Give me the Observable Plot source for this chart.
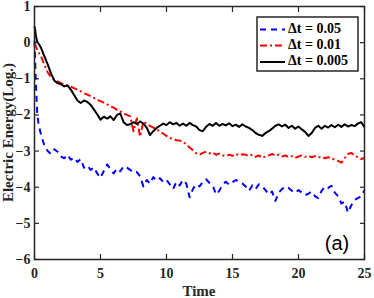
<!DOCTYPE html>
<html>
<head>
<meta charset="utf-8">
<script src="https://cdn.jsdelivr.net/npm/d3@7"></script>
<script src="https://cdn.jsdelivr.net/npm/@observablehq/plot@0.6"></script>
<style>
  html, body { margin: 0; padding: 0; background: #fff; }
  #chart svg { display: block; }
</style>
</head>
<body>
<div id="chart"></div>
<script>
// ---- data ----
const times = [0, 0.05, 0.1, 0.2, 0.3, 0.5, 0.75,
  1, 1.25, 1.5, 1.75, 2, 2.25, 2.5, 2.75, 3, 3.25, 3.5, 3.75, 4, 4.25, 4.5, 4.75,
  5, 5.25, 5.5, 5.75, 6, 6.25, 6.5, 6.75, 7, 7.25, 7.5, 7.75, 8, 8.25, 8.5, 8.75,
  9, 9.25, 9.5, 9.75, 10, 10.25, 10.5, 10.75, 11, 11.25, 11.5, 11.75, 12, 12.25, 12.5, 12.75,
  13, 13.25, 13.5, 13.75, 14, 14.25, 14.5, 14.75, 15, 15.25, 15.5, 15.75, 16, 16.25, 16.5, 16.75,
  17, 17.25, 17.5, 17.75, 18, 18.25, 18.5, 18.75, 19, 19.25, 19.5, 19.75, 20, 20.25, 20.5, 20.75,
  21, 21.25, 21.5, 21.75, 22, 22.25, 22.5, 22.75, 23, 23.25, 23.5, 23.75, 24, 24.25, 24.5, 24.75, 25];

const energyDt005a = [0.05, -0.5, -1.1, -1.9, -2.25, -2.55, -2.85,
  -3.0, -3.08, -2.95, -3.02, -3.15, -3.2, -3.1, -3.24, -3.18, -3.3, -3.22, -3.46, -3.4, -3.52, -3.45, -3.62,
  -3.74, -3.55, -3.37, -3.5, -3.62, -3.48, -3.56, -3.42, -3.46, -3.52, -3.6, -3.58, -3.7, -3.98, -3.8, -3.9,
  -3.72, -3.82, -3.75, -3.86, -3.8, -3.92, -4.05, -3.85, -3.95, -3.8, -3.9, -4.28, -4.05, -3.92, -3.98, -3.85,
  -3.78, -3.88, -3.95, -4.2, -4.1, -3.92, -3.85, -3.93, -3.86, -3.8, -3.84, -3.9, -3.98, -4.1, -3.95, -4.05,
  -3.92, -3.98, -4.08, -4.2, -4.12, -4.38, -4.15, -4.05, -3.98, -4.02, -4.1, -4.16, -4.08, -4.15, -4.22, -4.18,
  -4.12, -4.25, -4.3, -4.1, -3.98, -4.02, -3.96, -4.15, -4.25, -4.45, -4.4, -4.7, -4.5, -4.35, -4.3, -4.25, -4.08];

const energyDt001 = [-0.02, -0.06, -0.1, -0.2, -0.26, -0.38, -0.62,
  -0.82, -0.96, -1.02, -1.07, -1.12, -1.17, -1.2, -1.22, -1.26, -1.3, -1.35, -1.4, -1.44, -1.48, -1.53, -1.58,
  -1.62, -1.66, -1.71, -1.76, -1.8, -1.86, -1.9, -1.96, -2.0, -2.04, -2.45, -2.1, -2.6, -2.18, -2.25, -2.3,
  -2.35, -2.4, -2.46, -2.52, -2.58, -2.64, -2.66, -2.7, -2.71, -2.74, -2.82, -2.9, -2.98, -3.06, -3.1, -3.05,
  -3.02, -3.06, -3.04, -3.1, -3.07, -3.12, -3.14, -3.1, -3.13, -3.08, -3.12, -3.09, -3.1, -3.14, -3.1, -3.16,
  -3.12, -3.19, -3.15, -3.12, -3.08, -3.13, -3.1, -3.15, -3.12, -3.17, -3.14, -3.19, -3.15, -3.12, -3.16, -3.13,
  -3.17, -3.14, -3.18, -3.15, -3.2, -3.17, -3.2, -3.24, -3.27, -3.32, -3.2, -3.08, -3.05, -3.12, -3.18, -3.22, -3.19];

const energyDt0005 = [0.45, 0.35, 0.2, 0.03, -0.02, -0.15, -0.38,
  -0.6, -0.85, -1.05, -1.12, -1.15, -1.21, -1.18, -1.3, -1.45, -1.6, -1.67, -1.6, -1.64, -1.72, -1.85, -1.98,
  -2.13, -2.05, -2.1, -2.04, -2.14, -2.0, -1.96, -2.2, -2.28, -2.26, -2.2, -2.25, -2.18, -2.24, -2.35, -2.56,
  -2.45, -2.36, -2.3, -2.24, -2.28, -2.2, -2.26, -2.22, -2.3, -2.24, -2.3, -2.22, -2.28, -2.32, -2.42, -2.45,
  -2.33, -2.25, -2.3, -2.22, -2.3, -2.25, -2.29, -2.23, -2.31, -2.27, -2.33, -2.26, -2.32, -2.36, -2.42, -2.5,
  -2.55, -2.58, -2.5, -2.45, -2.38, -2.3, -2.26, -2.32, -2.27, -2.36, -2.3, -2.38, -2.32, -2.4, -2.47, -2.58,
  -2.5, -2.36, -2.3, -2.38, -2.3, -2.35, -2.28, -2.34, -2.27, -2.33, -2.26, -2.32, -2.28, -2.31, -2.24, -2.2, -2.34];

const seriesNames = ["\u0394t = 0.05", "\u0394t = 0.01", "\u0394t = 0.005"];
const xTicks = [0, 5, 10, 15, 20, 25];
const yTicks = [-6, -5, -4, -3, -2, -1, 0, 1];
const xLabel = "Time";
const yLabel = "Electric Energy(Log.)";
const panelLabel = "(a)";

// ---- styling ----
const colors = ["#0000ff", "#ff0000", "#000000"];
const dashes = ["6,5", "7,3,2,3", null];
const serif = "'Liberation Serif', 'Times New Roman', serif";
const W = 374, H = 298;
const mL = 34, mR = 10, mT = 6, mB = 39;

const seriesValues = [energyDt005a, energyDt001, energyDt0005];
const rows = seriesValues.map((vals, i) => vals.map((v, j) => ({t: times[j], v, s: seriesNames[i]})));

const axisCol = "#262626";
const tickLen = 5;

const chart = Plot.plot({
  width: W,
  height: H,
  marginLeft: mL,
  marginRight: mR,
  marginTop: mT,
  marginBottom: mB,
  style: {fontFamily: serif, fontWeight: "bold", fontSize: "14px", color: "#262626", background: "#fff"},
  x: {domain: [0, 25], label: null},
  y: {domain: [-6, 1], label: null},
  marks: [
    ...rows.map((r, i) => Plot.line(r, {
      x: "t", y: "v",
      stroke: colors[i], strokeWidth: 2,
      strokeDasharray: dashes[i] || undefined,
      strokeLinejoin: "round", strokeLinecap: "butt"
    })),
    // tick labels
    Plot.axisX(xTicks, {anchor: "bottom", tickSize: 0, tickPadding: 9, label: null, fill: "#262626", fontSize: 14, fontWeight: "bold"}),
    Plot.axisY(yTicks, {anchor: "left", tickSize: 0, tickPadding: 4, label: null, fill: "#262626", fontSize: 14, fontWeight: "bold"}),
    // inward ticks on all four sides
    Plot.axisX(xTicks, {anchor: "bottom", tickSize: tickLen, dy: -tickLen, tickFormat: () => "", label: null, stroke: axisCol, strokeWidth: 1.2}),
    Plot.axisX(xTicks, {anchor: "top", tickSize: tickLen, dy: tickLen, tickFormat: () => "", label: null, stroke: axisCol, strokeWidth: 1.2}),
    Plot.axisY(yTicks, {anchor: "left", tickSize: tickLen, dx: tickLen, tickFormat: () => "", label: null, stroke: axisCol, strokeWidth: 1.2}),
    Plot.axisY(yTicks, {anchor: "right", tickSize: tickLen, dx: -tickLen, tickFormat: () => "", label: null, stroke: axisCol, strokeWidth: 1.2}),
    Plot.frame({stroke: axisCol, strokeWidth: 1.5})
  ]
});

document.getElementById("chart").appendChild(chart);

// ---- labels and legend ----
const svg = d3.select(chart);
const plotCx = mL + (W - mL - mR) / 2;
const plotCy = mT + (H - mT - mB) / 2;

svg.append("text")
  .attr("x", plotCx).attr("y", 293)
  .attr("text-anchor", "middle").attr("dominant-baseline", "middle")
  .style("font-family", serif).style("font-weight", "bold").style("font-size", "15px")
  .attr("fill", "#262626")
  .text(xLabel);

svg.append("text")
  .attr("transform", `translate(13,${plotCy}) rotate(-90)`)
  .attr("text-anchor", "middle")
  .style("font-family", serif).style("font-weight", "bold").style("font-size", "15px")
  .attr("fill", "#262626")
  .text(yLabel);

svg.append("text")
  .attr("x", 337).attr("y", 250)
  .attr("text-anchor", "middle")
  .style("font-family", "'Liberation Sans', Arial, sans-serif").style("font-size", "20px")
  .style("font-weight", "normal")
  .attr("fill", "#000")
  .text(panelLabel);

const lg = svg.append("g");
lg.append("rect")
  .attr("x", 257).attr("y", 17).attr("width", 101).attr("height", 54)
  .attr("fill", "#fff").attr("stroke", "#262626").attr("stroke-width", 1.5);
const rowY = [29.5, 45.5, 62];
seriesNames.forEach((name, i) => {
  lg.append("line")
    .attr("x1", 260).attr("x2", 285).attr("y1", rowY[i]).attr("y2", rowY[i])
    .attr("stroke", colors[i]).attr("stroke-width", 2)
    .attr("stroke-dasharray", dashes[i]);
  lg.append("text")
    .attr("x", 288).attr("y", rowY[i])
    .attr("text-anchor", "start")
    .attr("dominant-baseline", "middle")
    .style("font-family", serif).style("font-weight", "bold").style("font-size", "14px")
    .attr("fill", "#000")
    .text(name);
});
</script>
</body>
</html>
